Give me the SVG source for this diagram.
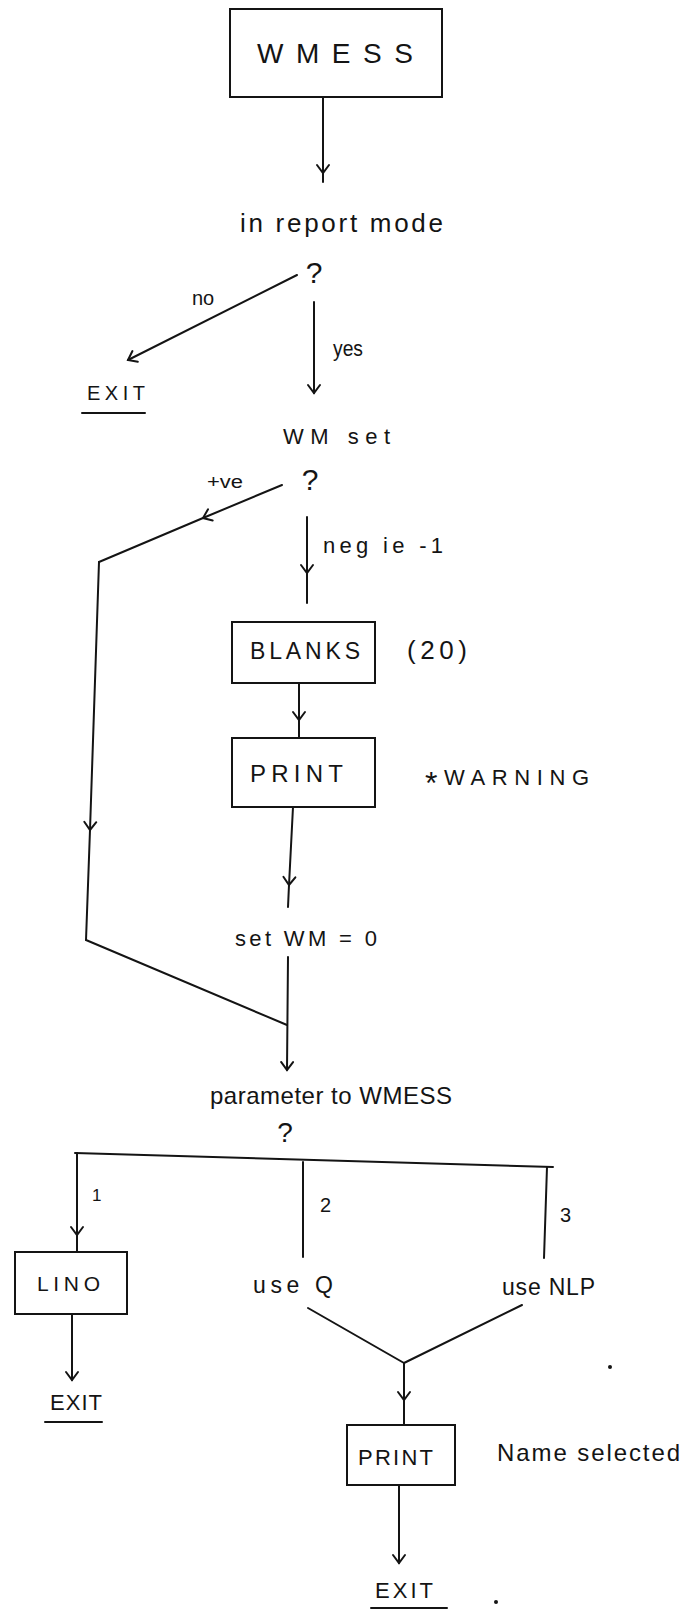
<svg xmlns="http://www.w3.org/2000/svg" width="683" height="1611" viewBox="0 0 683 1611">
<style>
  .bg{fill:#ffffff}
  .box{fill:none;stroke:#141414;stroke-width:2}
  .ln{fill:none;stroke:#141414;stroke-width:2;stroke-linecap:round}
  .t{font-family:"Liberation Sans",Arial,sans-serif;fill:#141414}
  .c{text-anchor:middle}
</style>
<defs>
  <marker id="v" viewBox="-10 -8 12 16" refX="0" refY="0" markerWidth="12" markerHeight="16" markerUnits="userSpaceOnUse" orient="auto">
    <path d="M-8,-6 L0,0 L-8,6" fill="none" stroke="#141414" stroke-width="2" stroke-linecap="round"/>
  </marker>
</defs>
<rect class="bg" x="0" y="0" width="683" height="1611"/>

<g id="connectors">
  <path class="ln" d="M323,97 L323,173 L323,182" marker-mid="url(#v)"/>
  <path class="ln" d="M297,275 L128,360" marker-end="url(#v)"/>
  <path class="ln" d="M314,302 L314,393" marker-end="url(#v)"/>
  <path class="ln" d="M282,485 L203,518 L99,562" marker-mid="url(#v)"/>
  <path class="ln" d="M99,562 L90,830 L86,940" marker-mid="url(#v)"/>
  <path class="ln" d="M86,940 L287,1025"/>
  <path class="ln" d="M307,517 L307,573 L307,603" marker-mid="url(#v)"/>
  <path class="ln" d="M299,683 L299,720 L299,738" marker-mid="url(#v)"/>
  <path class="ln" d="M293,807 L289,885 L288,907" marker-mid="url(#v)"/>
  <path class="ln" d="M288,957 L287,1070" marker-end="url(#v)"/>
  <path class="ln" d="M75,1153 L553,1167"/>
  <path class="ln" d="M77,1153 L77,1235 L77,1252" marker-mid="url(#v)"/>
  <path class="ln" d="M303,1162 L303,1257"/>
  <path class="ln" d="M547,1167 L544,1258"/>
  <path class="ln" d="M72,1314 L72,1380" marker-end="url(#v)"/>
  <path class="ln" d="M308,1308 L404,1363"/>
  <path class="ln" d="M522,1305 L404,1363"/>
  <path class="ln" d="M404,1363 L404,1400 L404,1425" marker-mid="url(#v)"/>
  <path class="ln" d="M399,1485 L399,1563" marker-end="url(#v)"/>
</g>

<g id="labels">
  <text class="t c" x="203" y="305" font-size="20">no</text>
  <text class="t" x="333" y="356" font-size="22" textLength="30" lengthAdjust="spacingAndGlyphs">yes</text>
  <text class="t" x="207" y="488" font-size="18" textLength="36" lengthAdjust="spacingAndGlyphs">+ve</text>
  <text class="t" x="323" y="553" font-size="22" textLength="120" lengthAdjust="spacing">neg ie -1</text>
  <text class="t" x="92" y="1201" font-size="17">1</text>
  <text class="t" x="320" y="1212" font-size="20">2</text>
  <text class="t" x="560" y="1222" font-size="20">3</text>
</g>

<g id="n-wmess">
  <rect class="box" x="230" y="9" width="212" height="88"/>
  <text class="t" x="257" y="63" font-size="28" textLength="156" lengthAdjust="spacing">WMESS</text>
</g>

<g id="n-report">
  <text class="t" x="240" y="232" font-size="26" textLength="203" lengthAdjust="spacing">in report mode</text>
  <text class="t c" x="314" y="283" font-size="30">?</text>
</g>

<g id="n-exit1">
  <text class="t" x="87" y="400" font-size="20" textLength="58" lengthAdjust="spacing">EXIT</text>
  <line class="ln" x1="82" y1="413" x2="145" y2="413"/>
</g>

<g id="n-wmset">
  <text class="t" x="283" y="444" font-size="22" textLength="107" lengthAdjust="spacing">WM set</text>
  <text class="t c" x="310" y="490" font-size="30">?</text>
</g>

<g id="n-blanks">
  <rect class="box" x="232" y="622" width="143" height="61"/>
  <text class="t" x="250" y="659" font-size="23" textLength="110" lengthAdjust="spacing">BLANKS</text>
  <text class="t" x="407" y="659" font-size="26" textLength="60" lengthAdjust="spacing">(20)</text>
</g>

<g id="n-print1">
  <rect class="box" x="232" y="738" width="143" height="69"/>
  <text class="t" x="250" y="782" font-size="24" textLength="93" lengthAdjust="spacing">PRINT</text>
  <text class="t" x="425" y="785" font-size="22" textLength="164" lengthAdjust="spacing"><tspan font-size="32" dy="9">*</tspan><tspan dy="-9">WARNING</tspan></text>
</g>

<g id="n-setwm">
  <text class="t" x="235" y="946" font-size="22" textLength="142" lengthAdjust="spacing">set WM = 0</text>
</g>

<g id="n-param">
  <text class="t" x="210" y="1104" font-size="24" textLength="242" lengthAdjust="spacing">parameter to WMESS</text>
  <text class="t c" x="285" y="1142" font-size="28">?</text>
</g>

<g id="n-lino">
  <rect class="box" x="15" y="1252" width="112" height="62"/>
  <text class="t" x="37" y="1291" font-size="21" textLength="63" lengthAdjust="spacing">LINO</text>
</g>

<g id="n-exit2">
  <text class="t" x="50" y="1410" font-size="22" textLength="52" lengthAdjust="spacing">EXIT</text>
  <line class="ln" x1="45" y1="1422" x2="102" y2="1422"/>
</g>

<g id="n-useq">
  <text class="t" x="253" y="1293" font-size="23" textLength="80" lengthAdjust="spacing">use Q</text>
</g>

<g id="n-usenlp">
  <text class="t" x="502" y="1295" font-size="23" textLength="93" lengthAdjust="spacing">use NLP</text>
</g>

<g id="n-print2">
  <rect class="box" x="347" y="1425" width="108" height="60"/>
  <text class="t" x="358" y="1465" font-size="22" textLength="75" lengthAdjust="spacing">PRINT</text>
  <text class="t" x="497" y="1461" font-size="24" textLength="183" lengthAdjust="spacing">Name selected</text>
</g>

<g id="n-exit3">
  <text class="t" x="375" y="1598" font-size="22" textLength="58" lengthAdjust="spacing">EXIT</text>
  <line class="ln" x1="371" y1="1608" x2="447" y2="1608"/>
</g>

<g id="specks">
  <circle cx="610" cy="1367" r="2" fill="#141414"/>
  <circle cx="496" cy="1602" r="2" fill="#141414"/>
</g>
</svg>
